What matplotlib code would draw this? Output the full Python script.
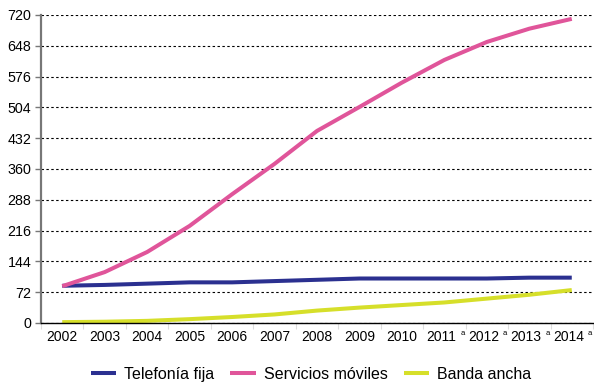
import matplotlib
matplotlib.use("Agg")
import matplotlib.pyplot as plt
import matplotlib.transforms as mtransforms
import numpy as np

plt.rcParams['font.family'] = ['Liberation Sans', 'DejaVu Sans']

years = ["2002", "2003", "2004", "2005", "2006", "2007", "2008",
         "2009", "2010", "2011", "2012", "2013", "2014"]
estimated = [False] * 9 + [True] * 4
telefonia_fija = [87, 89, 92, 95, 95, 98, 101, 104, 104, 104, 104, 106, 106]
servicios_moviles = [86, 119, 166, 227, 301, 372, 449, 505, 562, 615, 657, 688, 711]
banda_ancha = [2, 3, 5, 9, 14, 20, 29, 36, 42, 48, 57, 66, 77]
y_ticks = [0, 72, 144, 216, 288, 360, 432, 504, 576, 648, 720]

series = [
    ("Telefonía fija", telefonia_fija, "#2b3090"),
    ("Servicios móviles", servicios_moviles, "#e0559a"),
    ("Banda ancha", banda_ancha, "#d6df2a"),
]

fig = plt.figure(figsize=(5.94, 3.83), dpi=100)
ax = fig.add_axes([41 / 594, 60 / 383, 552 / 594, 308 / 383])

x = np.arange(len(years))
for label, values, color in series:
    ax.plot(x, values, color=color, lw=2.9, label=label, solid_capstyle='butt')

ax.set_xlim(-0.5, len(years) - 0.5)
ax.set_ylim(0, 720)
ax.set_yticks(y_ticks)
ax.set_yticklabels([str(v) for v in y_ticks], fontsize=10.3)
ax.yaxis.grid(True, linestyle=(0, (2.2, 2.2)), color='black', lw=0.8)
ax.set_axisbelow(True)

# Year labels; estimated years get a small "a" mark to the right
ax.set_xticks(x)
ax.set_xticklabels(years, fontsize=10)
ax.tick_params(axis='x', length=0, pad=5)
shift_left = mtransforms.ScaledTranslation(-2.5 / 72, 0, fig.dpi_scale_trans)
for lbl, e in zip(ax.get_xticklabels(), estimated):
    if e:
        lbl.set_transform(lbl.get_transform() + shift_left)
trans = mtransforms.blended_transform_factory(ax.transData, ax.transAxes)
for i, e in enumerate(estimated):
    if e:
        ax.annotate("a", xy=(x[i], 0), xycoords=trans, xytext=(13, -7.5),
                    textcoords='offset points', fontsize=5.5, ha='center',
                    va='center')
ax.set_xticks(np.arange(-0.5, len(years), 1), minor=True)
ax.tick_params(axis='x', which='minor', length=4, color='#dddddd', width=0.8)
ax.tick_params(axis='y', length=4, color='#777777', width=1, pad=3)

for side in ('top', 'right'):
    ax.spines[side].set_visible(False)
ax.spines['left'].set_color('#777777')
ax.spines['left'].set_linewidth(1.6)
ax.spines['bottom'].set_color('black')
ax.spines['bottom'].set_linewidth(1.0)

ax.legend(loc='upper center', bbox_to_anchor=(0.489, -0.095), ncol=3, frameon=False,
          fontsize=11.5, handlelength=1.6, columnspacing=1.0, handletextpad=0.5)

fig.savefig("out.png", dpi=100)
